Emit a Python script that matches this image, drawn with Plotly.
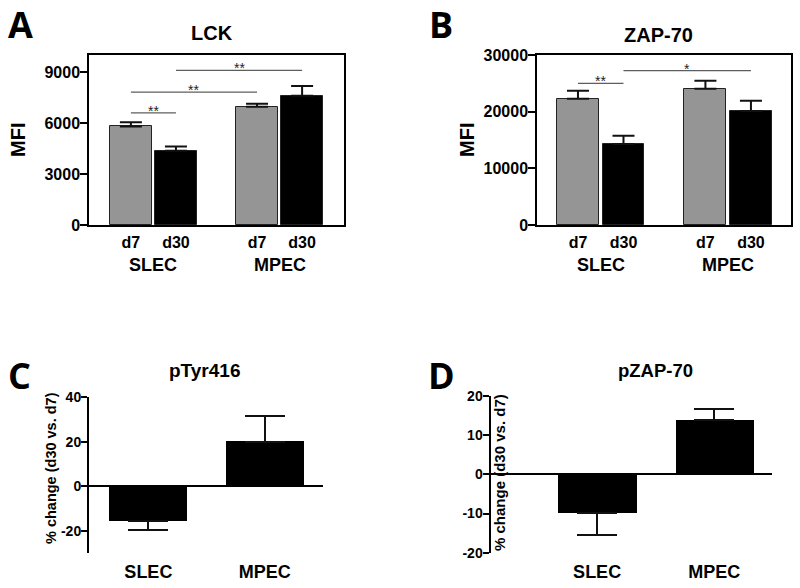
import plotly.graph_objects as go

# ---------------- data ----------------
groups = ["SLEC", "MPEC"]
days = ["d7", "d30"]

lck_mean = [5800, 4370, 6950, 7600]
lck_sem = [240, 255, 180, 570]
zap_mean = [22300, 14300, 24060, 20120]
zap_sem = [1400, 1460, 1410, 1820]

pct_groups = ["SLEC", "MPEC"]
ptyr_mean = [-15.7, 20.1]
ptyr_sem = [3.7, 11.5]
pzap_mean = [-9.9, 14.0]
pzap_sem = [5.6, 2.8]

# significance brackets: (from bar index, to bar index, height, label)
lck_sig = [(0, 1, 6600, "**"), (0, 2, 7815, "**"), (1, 3, 9096, "**")]
zap_sig = [(0, 1, 25000, "**"), (1, 3, 27230, "*")]

lck_ticks = [0, 3000, 6000, 9000]
zap_ticks = [0, 10000, 20000, 30000]
ptyr_ticks = [-20, 0, 20, 40]
pzap_ticks = [-20, -10, 0, 10, 20]

# ---------------- style ----------------
FONT = "Liberation Sans, Arial, sans-serif"
LETTER_FONT = "Open Sans, sans-serif"
GREY = "#959595"
GROUP_GAP = 2.8

bar_pos = [g * GROUP_GAP + d for g in range(len(groups)) for d in range(len(days))]
bar_cols = [GREY if d == 0 else "black" for g in range(len(groups)) for d in range(len(days))]
bar_labels = [days[d] for g in range(len(groups)) for d in range(len(days))]

fig = go.Figure()


def err(means, sems):
    return dict(type="data", symmetric=False,
                array=[s if m >= 0 else 0 for m, s in zip(means, sems)],
                arrayminus=[s if m < 0 else 0 for m, s in zip(means, sems)],
                color="#111111", thickness=2)


def grouped_panel(means, sems, sig, xa, ya, capw, name):
    e = err(means, sems)
    e["width"] = capw
    fig.add_trace(go.Bar(x=bar_pos, y=means, width=0.92,
                         marker=dict(color=bar_cols, line=dict(color="#222222", width=1)),
                         error_y=e, xaxis=xa, yaxis=ya, showlegend=False, name=name))
    for i, j, h, lab in sig:
        fig.add_trace(go.Scatter(x=[bar_pos[i], bar_pos[j]], y=[h, h], mode="lines",
                                 line=dict(color="#5e5e5e", width=1.3), xaxis=xa, yaxis=ya,
                                 showlegend=False, hoverinfo="skip"))
        fig.add_annotation(x=(bar_pos[i] + bar_pos[j]) / 2, y=h, xref=xa, yref=ya, text=lab,
                           showarrow=False, yanchor="middle", yshift=2,
                           font=dict(family=FONT, size=14, color="#222222"))
    for g, grp in enumerate(groups):
        fig.add_annotation(x=g * GROUP_GAP + 0.5, y=0, xref=xa, yref=ya, text=grp, showarrow=False,
                           yanchor="top", yshift=-28,
                           font=dict(family=FONT, size=18, color="black", weight="bold"))


def pct_panel(means, sems, xa, ya, name):
    e = err(means, sems)
    e["width"] = 20
    fig.add_trace(go.Bar(x=list(range(len(pct_groups))), y=means, width=0.67, marker=dict(color="black"),
                         error_y=e, xaxis=xa, yaxis=ya, showlegend=False, name=name))


grouped_panel(lck_mean, lck_sem, lck_sig, "x", "y", 11, "LCK")
grouped_panel(zap_mean, zap_sem, zap_sig, "x2", "y2", 11, "ZAP-70")
pct_panel(ptyr_mean, ptyr_sem, "x3", "y3", "pTyr416")
pct_panel(pzap_mean, pzap_sem, "x4", "y4", "pZAP-70")

W, H = 800, 588


def px(x0, x1):
    return [x0 / W, x1 / W]


def py(top, bottom):
    return [1 - bottom / H, 1 - top / H]


box_x = dict(showline=True, mirror=True, linecolor="black", linewidth=1.5, ticks="", showgrid=False,
             zeroline=False, tickvals=bar_pos, ticktext=bar_labels, ticklabelstandoff=2,
             tickfont=dict(family=FONT, size=16, color="black", weight="bold"))
box_y = dict(showline=True, mirror=True, linecolor="black", linewidth=1.5, ticks="outside", ticklen=7,
             tickwidth=1.5, tickcolor="black", showgrid=False, zeroline=False, ticklabelstandoff=-3,
             tickfont=dict(family=FONT, size=16, color="black", weight="bold"))

pct_x = dict(showline=False, ticks="", showgrid=False, zeroline=False, tickvals=[0, 1], ticktext=pct_groups,
             ticklabelstandoff=6, tickfont=dict(family=FONT, size=18, color="black", weight="bold"))
pct_y = dict(showline=True, linecolor="black", linewidth=2, ticks="outside", ticklen=6, tickwidth=2,
             tickcolor="black", showgrid=False, zeroline=True, zerolinecolor="black", zerolinewidth=2,
             ticklabelstandoff=-3,
             tickfont=dict(family=FONT, size=14, color="black", weight="bold"))

fig.update_layout(
    width=W, height=H, template="none", margin=dict(l=0, r=0, t=0, b=0),
    paper_bgcolor="white", plot_bgcolor="white", bargap=0,
    xaxis=dict(box_x, domain=px(89, 344), range=[-0.93, 4.73], anchor="y"),
    yaxis=dict(box_y, domain=py(55, 225), range=[0, 10000], tickvals=lck_ticks,
               ticktext=[str(v) for v in lck_ticks], anchor="x"),
    xaxis2=dict(box_x, domain=px(537, 791), range=[-0.9, 4.68], anchor="y2"),
    yaxis2=dict(box_y, domain=py(55, 225), range=[0, 30000], tickvals=zap_ticks,
                ticktext=[str(v) for v in zap_ticks], anchor="x2"),
    xaxis3=dict(pct_x, domain=px(89, 323), range=[-0.51, 1.5], anchor="y3"),
    yaxis3=dict(pct_y, domain=py(397.3, 553.3), range=[-30, 40], tickvals=ptyr_ticks,
                ticktext=[str(v) for v in ptyr_ticks], anchor="x3"),
    xaxis4=dict(pct_x, domain=px(490.5, 771.7), range=[-0.91, 1.49], anchor="y4"),
    yaxis4=dict(pct_y, domain=py(396, 552.7), range=[-20, 20], tickvals=pzap_ticks,
                ticktext=[str(v) for v in pzap_ticks], anchor="x4"),
)


def ann(x, y, text, size, family=FONT, angle=0):
    fig.add_annotation(x=x / W, y=1 - y / H, xref="paper", yref="paper", text=text, showarrow=False,
                       xanchor="center", yanchor="middle", textangle=angle,
                       font=dict(family=family, size=size, color="black", weight="bold"))


# panel letters
ann(20, 24, "A", 36, LETTER_FONT)
ann(441, 25, "B", 36, LETTER_FONT)
ann(19, 375, "C", 36, LETTER_FONT)
ann(441, 375, "D", 36, LETTER_FONT)
# titles
ann(212, 33, "LCK", 20)
ann(658, 35, "ZAP-70", 20)
ann(205, 370, "pTyr416", 19)
ann(655, 370, "pZAP-70", 18.5)
# y titles
ann(18, 140, "MFI", 20, angle=-90)
ann(467, 140, "MFI", 20, angle=-90)
ann(51, 468, "% change (d30 vs. d7)", 14.5, angle=-90)
ann(500, 473, "% change (d30 vs. d7)", 15, angle=-90)

fig.write_html("out.html", config={"displayModeBar": False},
               post_script="document.body.style.margin='0px';document.body.style.overflow='hidden';")
